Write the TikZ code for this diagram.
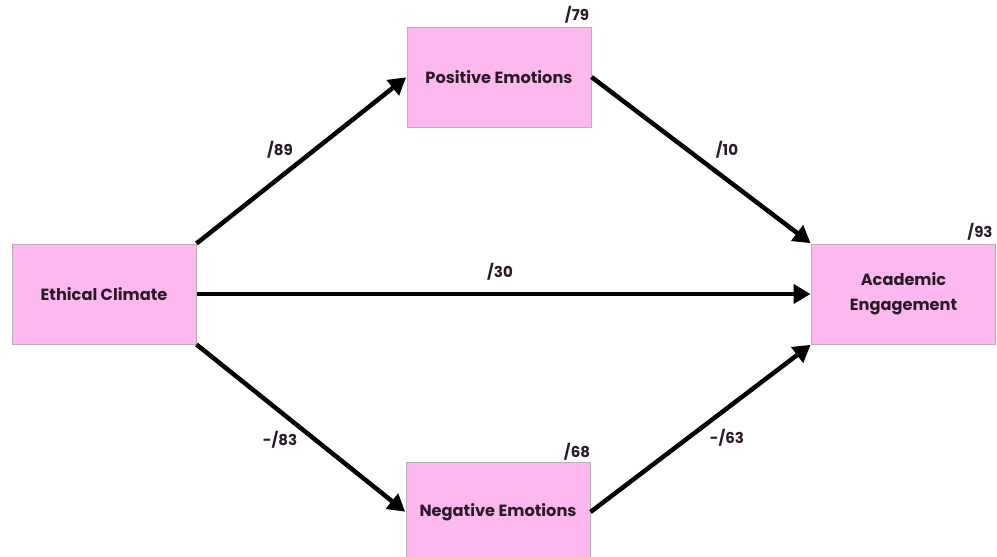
\documentclass[tikz,border=0pt]{standalone}
\usepackage{fontspec}
\setmainfont{Poppins}
\usetikzlibrary{arrows.meta}
\definecolor{boxpink}{HTML}{FDB9EF}
\definecolor{boxedge}{HTML}{B8B0B6}
\definecolor{ink}{HTML}{2A1A28}
\begin{document}
\begin{tikzpicture}[x=1pt,y=-1pt,
  var/.style={draw=boxedge,line width=1pt,fill=boxpink,minimum width=184pt,minimum height=100pt,
    inner sep=0pt,align=center,font=\fontsize{16.2}{25}\selectfont\bfseries,text=ink},
  path/.style={line width=4.5pt,-{Triangle[length=17pt,width=19pt]},shorten >=0.5pt},
  coef/.style={font=\fontsize{15}{18}\selectfont\bfseries,text=ink,inner sep=0pt},
  r2/.style={font=\fontsize{15}{18}\selectfont\bfseries,text=ink,inner sep=0pt}]
\useasboundingbox (0,0) rectangle (997,557);
\node[var] (ec) at (104,294) {Ethical Climate};
\node[var] (pe) at (499,77) {Positive Emotions};
\node[var] (ne) at (498,512) {Negative Emotions};
\node[var] (ae) at (903.5,294) {Academic\\Engagement};
\node[r2] (r2pe) at (577,15) {/79};
\node[r2] (r2ne) at (577,452) {/68};
\node[r2] (r2ae) at (980,232) {/93};
\draw[path] (ec.north east) -- (pe.west);
\draw[path] (pe.east) -- (ae.north west);
\draw[path] (ec.east) -- (ae.west);
\draw[path] (ec.south east) -- (ne.west);
\draw[path] (ne.east) -- (ae.south west);
\node[coef] (c1) at (280,150) {/89};
\node[coef] (c2) at (727,150) {/10};
\node[coef] (c3) at (500,272) {/30};
\node[coef] (c4) at (280,440) {-/83};
\node[coef] (c5) at (727,438) {-/63};
\end{tikzpicture}
\end{document}
